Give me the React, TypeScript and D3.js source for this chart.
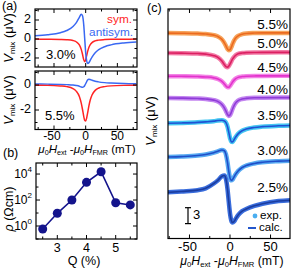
import React from 'react';
import * as d3 from 'd3';

// ---------- data ----------
const xGrid = [-80, -60, -40, -30, -20, -15, -10, -7, -5, -3, -1.5, 0, 1.5, 3, 5, 7, 10, 15, 20, 30, 40, 60, 80];

// panel (a) top, Q = 3.0 %
const symA30 = [-0.01, -0.02, -0.04, -0.07, -0.16, -0.29, -0.62, -1.09, -1.61, -2.2, -2.4, -2.2, -1.76, -1.33, -0.89, -0.62, -0.38, -0.2, -0.12, -0.06, -0.03, -0.02, -0.01];
const antiA30 = [0.33, 0.44, 0.66, 0.89, 1.31, 1.7, 2.28, 2.6, 2.44, 1.43, 0, -1.43, -2.29, -2.59, -2.51, -2.27, -1.9, -1.44, -1.15, -0.81, -0.62, -0.42, -0.32];
// panel (a) bottom, Q = 5.5 %
const symA55 = [-0.02, -0.03, -0.08, -0.13, -0.29, -0.49, -0.92, -1.45, -1.96, -2.53, -2.83, -2.88, -2.65, -2.25, -1.69, -1.24, -0.8, -0.43, -0.26, -0.13, -0.07, -0.03, -0.02];
const antiA55 = [0.08, 0.07, 0.05, 0.03, 0.0, -0.04, -0.1, -0.16, -0.18, -0.14, -0.04, 0.1, 0.26, 0.4, 0.46, 0.44, 0.38, 0.3, 0.25, 0.19, 0.16, 0.12, 0.1];

// panel (b)
const qValues = [2.5, 3, 3.5, 4, 4.5, 5, 5.5];
const rhoValues = [0.59, 9.5, 100, 2300, 15000, 62, 42];

// panel (c)
const cLabels = ['5.5%', '5.0%', '4.5%', '4.0%', '3.5%', '3.0%', '2.5%'];
const cOffsets = [38.6, 35.0, 30.6, 26.5, 21.5, 15.0, 8.05];
const c55 = [0.07, 0.04, -0.03, -0.11, -0.32, -0.58, -1.12, -1.77, -2.35, -2.94, -3.16, -3.06, -2.63, -2.04, -1.35, -0.88, -0.46, -0.14, -0.01, 0.07, 0.1, 0.1, 0.09];
const c50 = [-0.07, -0.11, -0.19, -0.29, -0.58, -0.91, -1.6, -2.26, -2.65, -2.75, -2.54, -2.15, -1.69, -1.25, -0.83, -0.51, -0.23, -0.09, -0.02, 0.02, 0.03, 0.04, 0.03];
const c45 = [-0.04, -0.07, -0.12, -0.19, -0.36, -0.57, -1.02, -1.5, -1.89, -2.14, -2.12, -1.89, -1.54, -1.17, -0.79, -0.51, -0.27, -0.12, -0.05, 0.0, 0.01, 0.02, 0.02];
const c40 = [-0.06, -0.08, -0.15, -0.24, -0.45, -0.71, -1.27, -1.92, -2.53, -3.17, -3.42, -3.27, -2.79, -2.17, -1.48, -0.97, -0.53, -0.24, -0.12, -0.02, 0.0, 0.02, 0.02];
const c35 = [0.19, 0.25, 0.36, 0.46, 0.59, 0.7, 0.76, 0.63, 0.3, -0.5, -1.51, -2.6, -3.27, -3.32, -2.9, -2.39, -1.8, -1.22, -0.91, -0.6, -0.44, -0.29, -0.21];
const c30 = [0.32, 0.42, 0.62, 0.82, 1.15, 1.41, 1.66, 1.51, 0.83, -0.77, -2.4, -3.63, -4.05, -3.92, -3.4, -2.89, -2.28, -1.64, -1.27, -0.87, -0.65, -0.44, -0.33];
const c25 = [0.6, 0.81, 1.05, 1.4, 2.3, 2.9, 3.66, 3.8, 3.14, 1.11, -1.2, -3.35, -4.62, -5.03, -4.84, -4.36, -3.65, -2.9, -2.5, -1.9, -1.5, -1.0, -0.8];
const cValues = [c55, c50, c45, c40, c35, c30, c25];
const cExpColors = ['#f6a45c', '#f27aa6', '#f383e6', '#c384f0', '#45c6f2', '#58aaf2', '#3a6ddc'];
const cCalcColors = ['#ec6a1f', '#dc2062', '#e232cc', '#8f3cd8', '#1f52d4', '#1f4fc9', '#1b3da0'];

const FONT = "'Liberation Sans', Arial, Helvetica, sans-serif";

// ---------- scales ----------
const xA = d3.scaleLinear().domain([-80, 81]).range([35, 137]);
const yA1 = d3.scaleLinear().domain([-2.95, 3.16]).range([67, 9]);
const yA2 = d3.scaleLinear().domain([-3.52, 1.12]).range([129, 71]);
const xB = d3.scaleLinear().domain([2.27, 5.73]).range([36, 137]);
const yB = d3.scaleLog().domain([0.1, Math.pow(10, 4.85)]).range([239, 163]);
const xC = d3.scaleLinear().domain([-76.5, 74]).range([168, 290]);
const yC = d3.scaleLinear().domain([0, 43.2]).range([238.5, 9]);

function linePath(xs: any, ys: any, vals: number[], off = 0) {
  return d3
    .line<number>()
    .x((_, i) => xs(xGrid[i]))
    .y((d) => ys(d + off))
    .curve(d3.curveMonotoneX)(vals) as string;
}

function Frame({ x0, x1, y0, y1 }: any) {
  return <rect x={x0} y={y0} width={x1 - x0} height={y1 - y0} fill="none" stroke="#000" strokeWidth={1.2} />;
}

function XTicks({ scale, y0, y1, majors, minors }: any) {
  return (
    <g stroke="#000" strokeWidth={1}>
      {majors.map((v: number) => (
        <g key={'M' + v}>
          <line x1={scale(v)} x2={scale(v)} y1={y1} y2={y1 - 4} />
          <line x1={scale(v)} x2={scale(v)} y1={y0} y2={y0 + 4} />
        </g>
      ))}
      {minors.map((v: number) => (
        <g key={'m' + v}>
          <line x1={scale(v)} x2={scale(v)} y1={y1} y2={y1 - 2.5} />
          <line x1={scale(v)} x2={scale(v)} y1={y0} y2={y0 + 2.5} />
        </g>
      ))}
    </g>
  );
}

function YTicks({ scale, x0, x1, majors, minors }: any) {
  return (
    <g stroke="#000" strokeWidth={1}>
      {majors.map((v: number) => (
        <g key={'M' + v}>
          <line y1={scale(v)} y2={scale(v)} x1={x0} x2={x0 + 4} />
          <line y1={scale(v)} y2={scale(v)} x1={x1} x2={x1 - 4} />
        </g>
      ))}
      {minors.map((v: number) => (
        <g key={'m' + v}>
          <line y1={scale(v)} y2={scale(v)} x1={x0} x2={x0 + 2.5} />
          <line y1={scale(v)} y2={scale(v)} x1={x1} x2={x1 - 2.5} />
        </g>
      ))}
    </g>
  );
}

function XTitle({ x, y, size = 12 }: any) {
  const s = size * 0.62;
  return (
    <text x={x} y={y} textAnchor="middle" dominantBaseline="middle" fontSize={size} fontFamily={FONT}>
      <tspan fontStyle="italic">μ</tspan>
      <tspan fontSize={s} dy={3}>0</tspan>
      <tspan fontStyle="italic" dy={-3}>H</tspan>
      <tspan fontSize={s} dy={3}>ext</tspan>
      <tspan dy={-3}> -</tspan>
      <tspan fontStyle="italic">μ</tspan>
      <tspan fontSize={s} dy={3}>0</tspan>
      <tspan fontStyle="italic" dy={-3}>H</tspan>
      <tspan fontSize={s} dy={3}>FMR</tspan>
      <tspan dy={-3}> (mT)</tspan>
    </text>
  );
}

function VTitle({ x, y }: any) {
  return (
    <text
      transform={`translate(${x},${y}) rotate(-90)`}
      textAnchor="middle"
      dominantBaseline="middle"
      fontSize={13}
      fontFamily={FONT}
    >
      <tspan fontStyle="italic">V</tspan>
      <tspan fontSize={8} dy={3}>mix</tspan>
      <tspan dy={-3}> (μV)</tspan>
    </text>
  );
}

export default function App() {
  const red = '#ff2424';
  const blue = '#3a68f2';
  const navy = '#14148c';
  return (
    <svg width={293} height={273} style={{ position: 'absolute', left: 0, top: 0, background: '#fff' }} fontFamily={FONT}>
      <defs>
        <clipPath id="cA1"><rect x={35} y={9} width={102} height={58} /></clipPath>
        <clipPath id="cA2"><rect x={35} y={71} width={102} height={58} /></clipPath>
        <clipPath id="cC"><rect x={168} y={9} width={122} height={229.5} /></clipPath>
      </defs>

      {/* ---------- panel (a) ---------- */}
      <text x={2} y={7} fontSize={12.5} dominantBaseline="middle">(a)</text>
      <g clipPath="url(#cA1)" fill="none">
        <path d={linePath(xA, yA1, symA30)} stroke={red} strokeWidth={1.5} />
        <path d={linePath(xA, yA1, antiA30)} stroke={blue} strokeWidth={1.5} />
      </g>
      <Frame x0={35} x1={137} y0={9} y1={67} />
      <XTicks scale={xA} y0={9} y1={67} majors={[-50, 0, 50]} minors={[-75, -25, 25, 75]} />
      <YTicks scale={yA1} x0={35} x1={137} majors={[-2, 0, 2]} minors={[-1, 1, 3]} />
      {[-2, 0, 2].map((v) => (
        <text key={v} x={31} y={yA1(v)} textAnchor="end" dominantBaseline="middle" fontSize={12.5}>
          {v < 0 ? '-' + Math.abs(v) : v}
        </text>
      ))}
      <text x={132} y={19.5} textAnchor="end" dominantBaseline="middle" fontSize={11.8} fill={red}>sym.</text>
      <text x={133} y={32.5} textAnchor="end" dominantBaseline="middle" fontSize={11.8} fill={blue}>antisym.</text>
      <text x={46} y={56} dominantBaseline="middle" fontSize={13}>3.0%</text>
      <VTitle x={10} y={38} />

      <g clipPath="url(#cA2)" fill="none">
        <path d={linePath(xA, yA2, antiA55)} stroke={blue} strokeWidth={1.5} />
        <path d={linePath(xA, yA2, symA55)} stroke={red} strokeWidth={1.5} />
      </g>
      <Frame x0={35} x1={137} y0={71} y1={129.5} />
      <XTicks scale={xA} y0={71} y1={129.5} majors={[-50, 0, 50]} minors={[-75, -25, 25, 75]} />
      <YTicks scale={yA2} x0={35} x1={137} majors={[-2, 0]} minors={[-3, -1, 1]} />
      {[-2, 0].map((v) => (
        <text key={v} x={31} y={yA2(v)} textAnchor="end" dominantBaseline="middle" fontSize={12.5}>
          {v < 0 ? '-' + Math.abs(v) : v}
        </text>
      ))}
      <text x={45} y={117} dominantBaseline="middle" fontSize={13}>5.5%</text>
      <VTitle x={10} y={100} />
      {[-50, 0, 50].map((v) => (
        <text key={v} x={xA(v) - (v < 0 ? 2 : 0)} y={136.5} textAnchor="middle" dominantBaseline="middle" fontSize={12}>
          {v < 0 ? '-' + Math.abs(v) : v}
        </text>
      ))}
      <XTitle x={87} y={150} size={11.6} />

      {/* ---------- panel (b) ---------- */}
      <text x={3} y={154} fontSize={12.5} dominantBaseline="middle">(b)</text>
      <Frame x0={36} x1={137} y0={163} y1={239} />
      <XTicks scale={xB} y0={163} y1={239} majors={[3, 4, 5]} minors={[2.5, 3.5, 4.5, 5.5]} />
      <YTicks scale={yB} x0={36} x1={137} majors={[1, 100, 10000]} minors={[0.1, 10, 1000]} />
      {[0, 2, 4].map((e) => (
        <text key={e} x={32} y={yB(Math.pow(10, e)) + 1} textAnchor="end" dominantBaseline="middle" fontSize={12}>
          10<tspan fontSize={8} dy={-5}>{e}</tspan>
        </text>
      ))}
      {[3, 4, 5].map((v) => (
        <text key={v} x={xB(v)} y={248.5} textAnchor="middle" dominantBaseline="middle" fontSize={12.5}>{v}</text>
      ))}
      <text x={84} y={262} textAnchor="middle" dominantBaseline="middle" fontSize={12.5}>Q (%)</text>
      <text transform="translate(10,209) rotate(-90)" textAnchor="middle" dominantBaseline="middle" fontSize={12.5}>
        <tspan fontStyle="italic">ρ</tspan> (Ωcm)
      </text>
      <path
        d={d3.line<number>().x((_, i) => xB(qValues[i])).y((d) => yB(d))(rhoValues) as string}
        fill="none"
        stroke={navy}
        strokeWidth={1.6}
      />
      {rhoValues.map((r, i) => (
        <circle key={i} cx={xB(qValues[i])} cy={yB(r)} r={4.5} fill={navy} />
      ))}

      {/* ---------- panel (c) ---------- */}
      <text x={147} y={9} fontSize={12.5} dominantBaseline="middle">(c)</text>
      <g clipPath="url(#cC)" fill="none" strokeLinecap="round" strokeLinejoin="round">
        {cValues.map((vals, k) => (
          <g key={k}>
            <path d={linePath(xC, yC, vals, cOffsets[k])} stroke={cExpColors[k]} strokeWidth={4.5} />
            <path d={linePath(xC, yC, vals, cOffsets[k])} stroke={cCalcColors[k]} strokeWidth={1.6} />
          </g>
        ))}
      </g>
      <Frame x0={168} x1={290} y0={9} y1={238.5} />
      <XTicks scale={xC} y0={9} y1={238.5} majors={[-50, 0, 50]} minors={[-75, -25, 25]} />
      {cLabels.map((l, k) => (
        <text key={l} x={288} y={yC(cOffsets[k] + 1.45)} textAnchor="end" dominantBaseline="middle" fontSize={13.5}>
          {l}
        </text>
      ))}
      {/* scale bar 3 μV */}
      <g stroke="#000" strokeWidth={1.2}>
        <line x1={188} x2={188} y1={yC(2.8)} y2={yC(5.8)} />
        <line x1={185} x2={191} y1={yC(2.8)} y2={yC(2.8)} />
        <line x1={185} x2={191} y1={yC(5.8)} y2={yC(5.8)} />
      </g>
      <text x={193} y={yC(4.4)} dominantBaseline="middle" fontSize={13}>3</text>
      {/* legend */}
      <circle cx={255} cy={216} r={2.4} fill="#4aaef0" />
      <text x={260} y={216} dominantBaseline="middle" fontSize={11.6}>exp.</text>
      <line x1={248} x2={256} y1={228} y2={228} stroke="#2356cc" strokeWidth={2} />
      <text x={259} y={228} dominantBaseline="middle" fontSize={11.6}>calc.</text>
      <VTitle x={152} y={121} />
      {[-50, 0, 50].map((v) => (
        <text key={v} x={xC(v) - (v < 0 ? 2 : 0)} y={248} textAnchor="middle" dominantBaseline="middle" fontSize={13}>
          {v < 0 ? '-' + Math.abs(v) : v}
        </text>
      ))}
      <XTitle x={232} y={261.5} size={12.3} />
    </svg>
  );
}
